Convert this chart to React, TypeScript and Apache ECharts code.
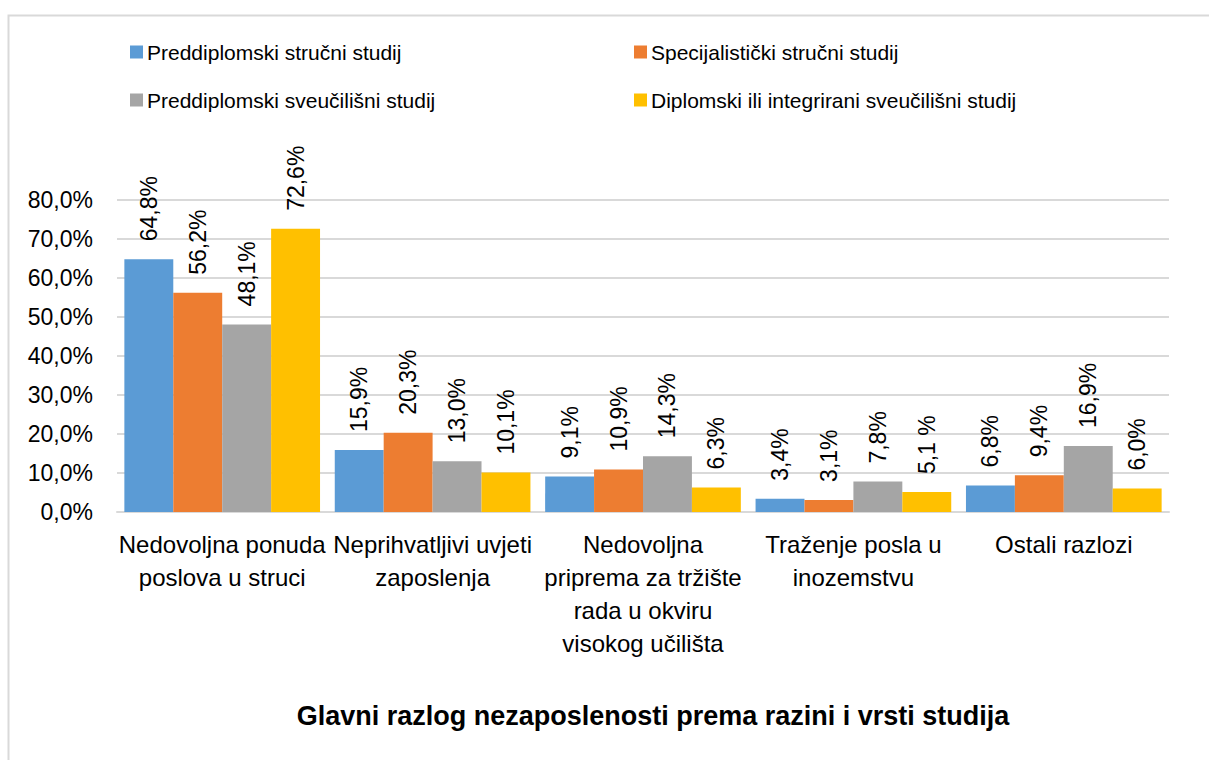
import React, { useEffect, useRef } from "react";
import * as echarts from "echarts";

const categories = [
  "Nedovoljna ponuda\nposlova u struci",
  "Neprihvatljivi uvjeti\nzaposlenja",
  "Nedovoljna\npriprema za tržište\nrada u okviru\nvisokog učilišta",
  "Traženje posla u\ninozemstvu",
  "Ostali razlozi",
];
const seriesNames = [
  "Preddiplomski stručni studij",
  "Specijalistički stručni studij",
  "Preddiplomski sveučilišni studij",
  "Diplomski ili integrirani sveučilišni studij",
];
const preddiplomskiStrucni = [64.8, 15.9, 9.1, 3.4, 6.8];
const specijalistickiStrucni = [56.2, 20.3, 10.9, 3.1, 9.4];
const preddiplomskiSveucilisni = [48.1, 13.0, 14.3, 7.8, 16.9];
const diplomskiIntegrirani = [72.6, 10.1, 6.3, 5.1, 6.0];
const yTicks = [0, 10, 20, 30, 40, 50, 60, 70, 80];
// label text override as printed in the source ("5,1 %")
const labelOverrides: Record<string, string> = { "3-3": "5,1 %" };

const colors = ["#5B9BD5", "#ED7D31", "#A5A5A5", "#FFC000"];
const FONT = "Liberation Sans";

export default function App() {
  const ref = useRef<HTMLDivElement>(null);
  useEffect(() => {
    if (!ref.current) return;
    const chart = echarts.init(ref.current, null, { renderer: "svg" });
    const values = [
      preddiplomskiStrucni,
      specijalistickiStrucni,
      preddiplomskiSveucilisni,
      diplomskiIntegrirani,
    ];
    const fmt = (v: number) => v.toFixed(1).replace(".", ",") + "%";
    const legendCommon = {
      orient: "vertical",
      top: 40,
      padding: 0,
      itemWidth: 13,
      itemHeight: 13,
      itemGap: 24,
      icon: "rect",
      textStyle: { fontFamily: FONT, fontSize: 21, color: "#000", lineHeight: 24, padding: [0, 0, 0, -1] },
    };
    chart.setOption({
      animation: false,
      textStyle: { fontFamily: FONT },
      color: colors,
      graphic: [
        {
          type: "rect",
          shape: { x: 8.5, y: 15.5, width: 1230, height: 800 },
          style: { fill: "none", stroke: "#D9D9D9", lineWidth: 2 },
          silent: true,
        },
      ],
      title: {
        text: "Glavni razlog nezaposlenosti prema razini i vrsti studija",
        left: 653,
        textAlign: "center",
        top: 702,
        padding: 0,
        textStyle: { fontFamily: FONT, fontSize: 27, fontWeight: "bold", color: "#000" },
      },
      legend: [
        { ...legendCommon, left: 130, data: [seriesNames[0], seriesNames[2]] },
        { ...legendCommon, left: 634, data: [seriesNames[1], seriesNames[3]] },
      ],
      grid: { left: 117, right: 40, top: 200, bottom: 248, containLabel: false },
      xAxis: {
        type: "category",
        data: categories,
        axisLine: { lineStyle: { color: "#D9D9D9", width: 2 } },
        axisTick: { show: false },
        axisLabel: {
          interval: 0,
          margin: 16,
          fontSize: 24,
          lineHeight: 33,
          color: "#000",
          fontFamily: FONT,
        },
      },
      yAxis: {
        type: "value",
        min: yTicks[0],
        max: yTicks[yTicks.length - 1],
        interval: 10,
        axisLine: { show: false },
        axisTick: { show: false },
        splitLine: { lineStyle: { color: "#D9D9D9", width: 2 } },
        axisLabel: {
          formatter: (v: number) => fmt(v),
          fontSize: 23,
          margin: 24,
          color: "#000",
          fontFamily: FONT,
        },
      },
      series: values.map((arr, si) => ({
        name: seriesNames[si],
        type: "bar",
        data: arr,
        barGap: "0%",
        barCategoryGap: "7%",
        itemStyle: { color: colors[si] },
        label: {
          show: true,
          position: "top",
          rotate: 90,
          align: "left",
          verticalAlign: "middle",
          distance: 18,
          fontSize: 23,
          color: "#000",
          fontFamily: FONT,
          formatter: (p: any) => labelOverrides[`${si}-${p.dataIndex}`] ?? fmt(p.value),
        },
      })),
    });
    return () => chart.dispose();
  }, []);
  return (
    <div
      ref={ref}
      style={{ position: "fixed", left: 0, top: 0, width: 1209, height: 760, background: "#fff" }}
    />
  );
}
